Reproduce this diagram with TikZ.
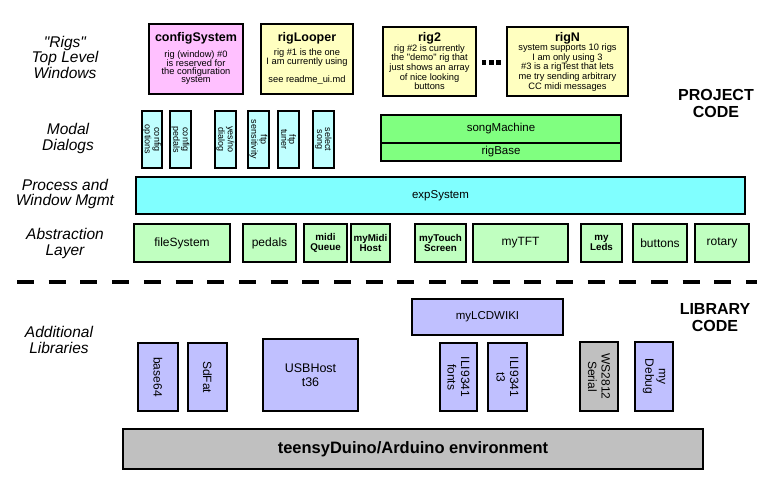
\documentclass[tikz,border=0pt]{standalone}
\usepackage{fontspec}
\setmainfont{Liberation Sans}
\font\qitfont="Liberation Sans/I" at 15.5pt
\font\qbodyfont="Liberation Sans" at 9.3pt
\newcommand{\qit}{{\qitfont\char34}}
\newcommand{\qbd}{{\qbodyfont\char34}}
\definecolor{cpink}{HTML}{FFC0FF}
\definecolor{cyel}{HTML}{FFFFC0}
\definecolor{clcyan}{HTML}{C0FFFF}
\definecolor{cgreen}{HTML}{80FF80}
\definecolor{ccyan}{HTML}{80FFFF}
\definecolor{clgreen}{HTML}{C0FFC0}
\definecolor{clav}{HTML}{C0C0FF}
\definecolor{cgray}{HTML}{C0C0C0}
\begin{document}
\begin{tikzpicture}[x=1pt,y=-1pt,
  every node/.style={inner sep=0pt, outer sep=0pt, align=center},
  box/.style={draw=black, line width=2.8pt, rectangle},
  midbox/.style={draw=black, line width=2.2pt, rectangle},
  thinbox/.style={draw=black, line width=1.5pt, rectangle},
  rigtitle/.style={font=\fontsize{12.5}{14}\selectfont\bfseries},
  rigbody/.style={font=\fontsize{9.3}{8}\selectfont},
  dlgtxt/.style={font=\fontsize{9}{8}\selectfont},
  bigtxt/.style={font=\fontsize{12}{13}\selectfont},
  smalltxt/.style={font=\fontsize{9.8}{10.5}\selectfont\bfseries},
  midtxt/.style={font=\fontsize{11.5}{13}\selectfont},
  libtxt/.style={font=\fontsize{12}{13.5}\selectfont},
  lbl/.style={font=\fontsize{15.5}{15.5}\selectfont\itshape},
  hdr/.style={font=\fontsize{16}{17}\selectfont\bfseries},
  dlg/.style={thinbox, fill=clcyan, rotate=-90, minimum width=57pt, dlgtxt},
  abox/.style={box, fill=clgreen, minimum height=38pt},
  lbox/.style={midbox, fill=clav},
  rlib/.style={lbox, rotate=-90, minimum width=68pt, libtxt}
]
\useasboundingbox (0,0) rectangle (768,480);

% left labels
\node[lbl] (lRigs) at (65,57) {\qit Rigs\qit\\Top Level\\Windows};
\node[lbl] (lModal) at (68,138.5) {Modal\\Dialogs};
\node[lbl] (lProc) at (65,194) {Process and\\Window Mgmt};
\node[lbl] (lAbs) at (65,243.5) {Abstraction\\Layer};
\node[lbl] (lAdd) at (59,340) {Additional\\Libraries};

% headers
\node[hdr] (hProj) at (716,103.5) {PROJECT\\CODE};
\node[hdr] (hLib) at (715,317.5) {LIBRARY\\CODE};

% rigs
\node[box, fill=cpink, minimum width=94pt, minimum height=70pt] (configSystem) at (196,59) {};
\node[rigtitle] (configSystemT) at (196,38) {configSystem};
\node[rigbody] (configSystemB) at (196,67.5) {rig (window) \#0\\is reserved for\\the configuration\\system};

\node[box, fill=cyel, minimum width=92pt, minimum height=70pt] (rigLooper) at (307,59) {};
\node[rigtitle] (rigLooperT) at (307,38) {rigLooper};
\node[rigbody] (rigLooperB) at (307,66.3) {rig \#1 is the one\\I am currently using\\[8pt]see readme\_ui.md};

\node[box, fill=cyel, minimum width=93pt, minimum height=69pt] (rig2) at (429.5,61.5) {};
\node[rigtitle] (rig2T) at (429.5,38) {rig2};
\node[rigbody] (rig2B) at (429.5,67.3) {rig \#2 is currently\\the \qbd demo\qbd\ rig that\\just shows an array\\of nice looking\\buttons};

\fill (481.7,60) rectangle (486.2,65);
\fill (489,60) rectangle (493.5,65);
\fill (496.2,60) rectangle (500.7,65);

\node[box, fill=cyel, minimum width=121pt, minimum height=69pt] (rigN) at (567.5,61.5) {};
\node[rigtitle] (rigNT) at (567.5,38) {rigN};
\node[rigbody] (rigNB) at (567.5,67.3) {system supports 10 rigs\\I am only using 3\\\#3 is a rigTest that lets\\me try sending arbitrary\\CC midi messages};

% modal dialogs
\node[dlg, minimum height=20pt] (dOpt) at (152,139.5) {config\\options};
\node[dlg, minimum height=21pt] (dPed) at (180.5,139.5) {config\\pedals};
\node[dlg, minimum height=21pt] (dYes) at (225.5,139.5) {yes/no\\dialog};
\node[dlg, minimum height=21pt] (dSens) at (258.5,139.5) {ftp\\sensitivity};
\node[dlg, minimum height=21pt] (dTun) at (288.5,139.5) {ftp\\tuner};
\node[dlg, minimum height=21pt] (dSong) at (323.5,139.5) {select\\song};

\node[thinbox, fill=cgreen, minimum width=240pt, minimum height=28pt, midtxt] (songMachine) at (501,129) {songMachine};
\node[thinbox, fill=cgreen, minimum width=240pt, minimum height=18pt, midtxt] (rigBase) at (501,152) {rigBase};

% expSystem
\node[box, fill=ccyan, minimum width=609pt, minimum height=37pt, midtxt] (expSystem) at (440.5,195.5) {expSystem};

% abstraction layer
\node[abox, minimum width=96pt, bigtxt] (fileSystem) at (182,243) {fileSystem};
\node[abox, minimum width=53pt, bigtxt] (pedals) at (269.5,243) {pedals};
\node[abox, minimum width=43pt, smalltxt] (midiQueue) at (325.5,243) {midi\\Queue};
\node[abox, minimum width=39pt, smalltxt] (myMidiHost) at (370.5,243) {myMidi\\Host};
\node[abox, minimum width=51pt, smalltxt] (myTouchScreen) at (440.5,243) {myTouch\\Screen};
\node[abox, minimum width=95pt, bigtxt] (myTFT) at (520.5,243) {myTFT};
\node[abox, minimum width=41pt, smalltxt] (myLeds) at (601.5,243) {my\\Leds};
\node[abox, minimum width=54pt, bigtxt] (buttons) at (660,243) {buttons};
\node[abox, minimum width=54pt, bigtxt] (rotary) at (722,243) {rotary};

% divider
\coordinate (dashL) at (17,282);
\coordinate (dashR) at (757,282);
\draw[line width=4pt, dash pattern=on 17pt off 14.7pt] (dashL) -- (dashR);

% libraries
\node[lbox, minimum width=151pt, minimum height=36pt, midtxt] (myLCDWIKI) at (487.5,317) {myLCDWIKI};
\node[rlib, minimum height=40pt] (base64) at (158,377) {base64};
\node[rlib, minimum height=39pt] (SdFat) at (207.5,377) {SdFat};
\node[lbox, minimum width=95pt, minimum height=72pt, font=\fontsize{12.5}{13.5}\selectfont] (USBHost) at (310.5,375) {USBHost\\t36};
\node[rlib, minimum height=37pt] (ILIfonts) at (458.5,377) {ILI9341\\fonts};
\node[rlib, minimum height=39pt] (ILIt3) at (507.5,377) {ILI9341\\t3};
\node[rlib, minimum height=38pt, fill=cgray, minimum width=69pt] (WS2812) at (599,376.5) {WS2812\\Serial};
\node[rlib, minimum height=38pt, minimum width=69pt] (myDebug) at (654,376.5) {my\\Debug};

% base
\node[midbox, fill=cgray, minimum width=580pt, minimum height=40pt, font=\fontsize{16.5}{18}\selectfont\bfseries] (teensy) at (413,449) {teensyDuino/Arduino environment};
\end{tikzpicture}
\end{document}
